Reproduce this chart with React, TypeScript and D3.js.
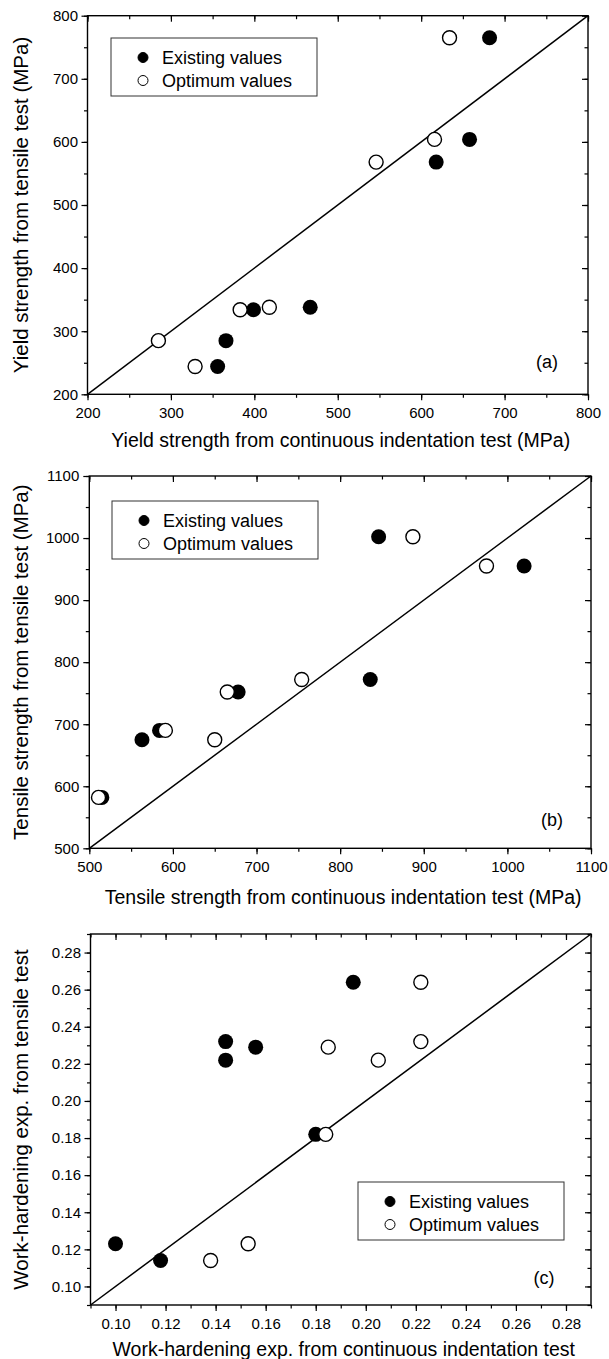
import React, { useEffect, useRef } from 'react'
import * as d3 from 'd3'

const WIDTH = 609
const HEIGHT = 1359
const FONT = '"Liberation Sans", Arial, Helvetica, sans-serif'

// (a) yield strength (MPa): [indentation, tensile]
const yieldTicks = [200, 300, 400, 500, 600, 700, 800]
const yieldExisting = [[682, 765], [658, 604], [618, 568], [467, 338], [399, 334], [366, 285], [356, 244]]
const yieldOptimum = [[634, 765], [616, 604], [546, 568], [418, 338], [383, 334], [285, 285], [329, 244]]

// (b) tensile strength (MPa)
const tensileTicks = [500, 600, 700, 800, 900, 1000, 1100]
const tensileExisting = [[846, 1002], [1020, 955], [836, 772], [678, 752], [584, 690], [563, 675], [515, 582]]
const tensileOptimum = [[887, 1002], [975, 955], [754, 772], [665, 752], [591, 690], [650, 675], [511, 582]]

// (c) work-hardening exponent
const hardeningTicks = [0.10, 0.12, 0.14, 0.16, 0.18, 0.20, 0.22, 0.24, 0.26, 0.28]
const hardeningExisting = [[0.100, 0.123], [0.118, 0.114], [0.144, 0.232], [0.144, 0.222], [0.156, 0.229], [0.180, 0.182], [0.195, 0.264]]
const hardeningOptimum = [[0.138, 0.114], [0.153, 0.123], [0.185, 0.229], [0.205, 0.222], [0.222, 0.232], [0.222, 0.264], [0.184, 0.182]]

const legendLabels = ['Existing values', 'Optimum values']

const panels = [
  {
    tag: '(a)', domain: [200, 800], ticks: yieldTicks, minor: 50, fmt: d3.format('d'),
    existing: yieldExisting, optimum: yieldOptimum,
    box: { left: 87.5, right: 588, top: 15.7, bottom: 394.3 },
    xTitle: 'Yield strength from continuous indentation test (MPa)',
    yTitle: 'Yield strength from tensile test (MPa)',
    legend: [111, 38], tagPos: [547, 362], yGap: 3.5, xTitleY: 440
  },
  {
    tag: '(b)', domain: [500, 1100], ticks: tensileTicks, minor: 50, fmt: d3.format('d'),
    existing: tensileExisting, optimum: tensileOptimum,
    box: { left: 89.3, right: 591, top: 476, bottom: 848.3 },
    xTitle: 'Tensile strength from continuous indentation test (MPa)',
    yTitle: 'Tensile strength from tensile test (MPa)',
    legend: [112, 501], tagPos: [552, 820], yGap: 4, xTitleY: 897
  },
  {
    tag: '(c)', domain: [0.09, 0.29], ticks: hardeningTicks, minor: 0.01, fmt: d3.format('.2f'),
    existing: hardeningExisting, optimum: hardeningOptimum,
    box: { left: 90.5, right: 591, top: 934, bottom: 1305 },
    xTitle: 'Work-hardening exp. from continuous indentation test',
    yTitle: 'Work-hardening exp. from tensile test',
    legend: [358, 1182], tagPos: [544, 1278], yGap: 3.5, xTitleY: 1349
  }
]

function styleAxis (sel) {
  sel.select('.domain').remove()
  sel.attr('font-family', FONT).attr('font-size', 15)
  sel.selectAll('line').attr('stroke', '#000').attr('stroke-width', 1.2)
  sel.selectAll('text').attr('fill', '#000')
}

function drawPanel (svg, p) {
  const b = p.box
  const x = d3.scaleLinear().domain(p.domain).range([b.left, b.right])
  const y = d3.scaleLinear().domain(p.domain).range([b.bottom, b.top])
  const minorVals = d3.range(p.domain[0], p.domain[1] + p.minor / 2, p.minor)
  const g = svg.append('g')

  // minor ticks: out on bottom/left, in on top/right
  g.append('g').attr('transform', `translate(0,${b.bottom})`)
    .call(d3.axisBottom(x).tickValues(minorVals).tickSize(3.5).tickFormat(() => '')).call(styleAxis)
  g.append('g').attr('transform', `translate(${b.left},0)`)
    .call(d3.axisLeft(y).tickValues(minorVals).tickSize(3.5).tickFormat(() => '')).call(styleAxis)
  g.append('g').attr('transform', `translate(0,${b.top})`)
    .call(d3.axisTop(x).tickValues(minorVals).tickSize(-3.5).tickFormat(() => '')).call(styleAxis)
  g.append('g').attr('transform', `translate(${b.right},0)`)
    .call(d3.axisRight(y).tickValues(minorVals).tickSize(-3.5).tickFormat(() => '')).call(styleAxis)

  // major ticks + labels
  g.append('g').attr('transform', `translate(0,${b.bottom})`)
    .call(d3.axisBottom(x).tickValues(p.ticks).tickFormat(p.fmt).tickSize(6).tickPadding(7)).call(styleAxis)
  g.append('g').attr('transform', `translate(${b.left},0)`)
    .call(d3.axisLeft(y).tickValues(p.ticks).tickFormat(p.fmt).tickSize(6).tickPadding(p.yGap)).call(styleAxis)
  g.append('g').attr('transform', `translate(0,${b.top})`)
    .call(d3.axisTop(x).tickValues(p.ticks).tickSize(-6).tickFormat(() => '')).call(styleAxis)
  g.append('g').attr('transform', `translate(${b.right},0)`)
    .call(d3.axisRight(y).tickValues(p.ticks).tickSize(-6).tickFormat(() => '')).call(styleAxis)

  g.append('rect')
    .attr('x', b.left).attr('y', b.top)
    .attr('width', b.right - b.left).attr('height', b.bottom - b.top)
    .attr('fill', 'none').attr('stroke', '#000').attr('stroke-width', 1.4)

  // y = x line
  g.append('line')
    .attr('x1', x(p.domain[0])).attr('y1', y(p.domain[0]))
    .attr('x2', x(p.domain[1])).attr('y2', y(p.domain[1]))
    .attr('stroke', '#000').attr('stroke-width', 1.5)

  g.append('g').selectAll('circle').data(p.existing).enter()
    .append('circle')
    .attr('cx', d => x(d[0])).attr('cy', d => y(d[1])).attr('r', 7.5)
    .attr('fill', '#000')
  g.append('g').selectAll('circle').data(p.optimum).enter()
    .append('circle')
    .attr('cx', d => x(d[0])).attr('cy', d => y(d[1])).attr('r', 7)
    .attr('fill', '#fff').attr('stroke', '#000').attr('stroke-width', 1.4)

  // legend
  const lg = g.append('g').attr('transform', `translate(${p.legend[0]},${p.legend[1]})`)
  lg.append('rect').attr('width', 206).attr('height', 58)
    .attr('fill', '#fff').attr('stroke', '#333').attr('stroke-width', 1)
  legendLabels.forEach((label, i) => {
    const cy = 19.5 + i * 23
    lg.append('circle').attr('cx', 32).attr('cy', cy).attr('r', 5)
      .attr('fill', i === 0 ? '#000' : '#fff').attr('stroke', '#000').attr('stroke-width', 1)
    lg.append('text').attr('x', 51).attr('y', cy).attr('dy', '0.36em')
      .attr('font-family', FONT).attr('font-size', 18).text(label)
  })

  g.append('text').attr('x', p.tagPos[0]).attr('y', p.tagPos[1]).attr('dy', '0.36em')
    .attr('text-anchor', 'middle').attr('font-family', FONT).attr('font-size', 18).text(p.tag)

  g.append('text').attr('x', (b.left + b.right) / 2 + 3).attr('y', p.xTitleY).attr('dy', '0.36em')
    .attr('text-anchor', 'middle').attr('font-family', FONT).attr('font-size', 19.5).text(p.xTitle)

  g.append('text')
    .attr('transform', `translate(21,${(b.top + b.bottom) / 2}) rotate(-90)`)
    .attr('dy', '0.36em')
    .attr('text-anchor', 'middle').attr('font-family', FONT).attr('font-size', 20.5).text(p.yTitle)
}

export default function App () {
  const ref = useRef(null)

  useEffect(() => {
    const svg = d3.select(ref.current)
    svg.selectAll('*').remove()
    panels.forEach(p => drawPanel(svg, p))
  }, [])

  return (
    <svg
      ref={ref}
      width={WIDTH}
      height={HEIGHT}
      style={{ position: 'absolute', left: 0, top: 0, background: '#fff' }}
    />
  )
}
